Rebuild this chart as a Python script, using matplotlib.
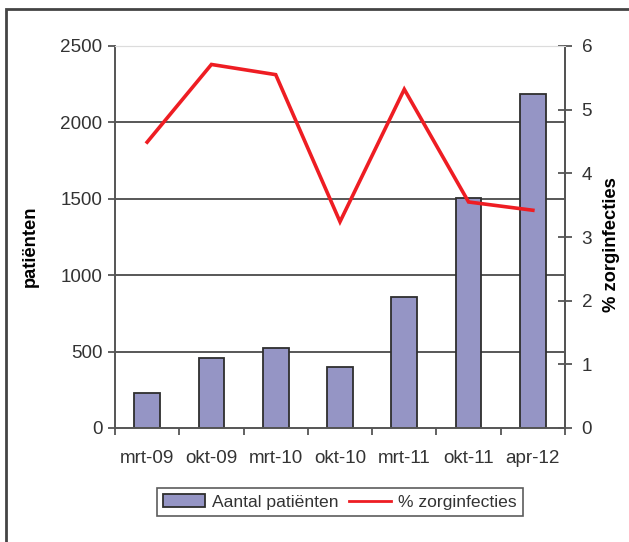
import matplotlib
matplotlib.use("Agg")
import matplotlib.pyplot as plt
from matplotlib.patches import Rectangle, Patch
from matplotlib.lines import Line2D

plt.rcParams['font.family'] = ['Liberation Sans', 'DejaVu Sans']

categories = ["mrt-09", "okt-09", "mrt-10", "okt-10", "mrt-11", "okt-11", "apr-12"]
patienten = [227, 458, 521, 397, 859, 1507, 2184]
zorginfecties = [4.49, 5.71, 5.55, 3.24, 5.32, 3.55, 3.42]
left_ticks = [0, 500, 1000, 1500, 2000, 2500]
right_ticks = [0, 1, 2, 3, 4, 5, 6]

W, H = 629, 542
DPI = 100
fig = plt.figure(figsize=(W / DPI, H / DPI), dpi=DPI)

def px(x0, y0, x1, y1):
    return [x0 / W, 1 - y1 / H, (x1 - x0) / W, (y1 - y0) / H]

ax = fig.add_axes(px(115, 46, 565, 428))
ax2 = ax.twinx()

bar_color = "#9595c5"
edge = "#2e2e2e"
grid_color = "#4a4a4a"
text_color = "#333333"
fs = 13.6

x = list(range(len(categories)))
ax.set_xlim(-0.5, len(categories) - 0.5)
ax.set_ylim(0, 2500)
ax2.set_ylim(0, 6)

# horizontal gridlines
for v in left_ticks[1:-1]:
    ax.axhline(v, color=grid_color, lw=1.3, zorder=1)

ax.bar(x, patienten, width=0.4, color=bar_color, edgecolor=edge, linewidth=1.3, zorder=2)
ax2.plot(x, zorginfecties, color="#ee1d23", lw=2.6, zorder=3, solid_joinstyle="miter")

# spines
for s in ["left", "bottom", "right"]:
    ax.spines[s].set_color("#555555")
    ax.spines[s].set_linewidth(1.4)
    ax2.spines[s].set_color("#555555")
    ax2.spines[s].set_linewidth(1.4)
ax.spines["top"].set_color("#dcdcdc")
ax2.spines["top"].set_color("#dcdcdc")
ax2.spines["left"].set_visible(False)
ax2.spines["bottom"].set_visible(False)

# left axis ticks
ax.set_yticks(left_ticks)
ax.set_yticklabels([str(v) for v in left_ticks])
ax.tick_params(axis="y", direction="out", length=5, width=1.3, color="#555555",
               labelsize=fs, labelcolor=text_color, pad=4)

# x axis: labels at category centers, tick marks at boundaries
ax.set_xticks(x)
ax.set_xticklabels(categories)
ax.set_xticks([i + 0.5 for i in range(-1, len(categories))], minor=True)
ax.tick_params(axis="x", which="major", length=0, labelsize=fs, labelcolor=text_color, pad=16)
ax.tick_params(axis="x", which="minor", direction="out", length=5, width=1.3, color="#555555")

# right axis ticks cross the axis line
ax2.set_yticks(right_ticks)
ax2.set_yticklabels([str(v) for v in right_ticks])
ax2.tick_params(axis="y", direction="inout", length=10, width=1.3, color="#555555",
                labelsize=fs, labelcolor=text_color, pad=7)

fig.text(30 / W, 1 - 246 / H, "patiënten", rotation=90, ha="center", va="center",
         fontsize=13.2, fontweight="bold", color="black")
fig.text(611 / W, 1 - 245 / H, "% zorginfecties", rotation=90, ha="center", va="center",
         fontsize=13.2, fontweight="bold", color="black")

handles = [Patch(facecolor=bar_color, edgecolor=edge, linewidth=1.3),
           Line2D([0], [0], color="#ee1d23", lw=2)]
leg = fig.legend(handles, ["Aantal patiënten", "% zorginfecties"], loc="center",
                 bbox_to_anchor=(340 / W, 1 - 502 / H), ncol=2, frameon=True,
                 fancybox=False, fontsize=12.6, handlelength=2.4, handleheight=0.7,
                 columnspacing=0.6, handletextpad=0.4, borderpad=0.35)
leg.get_frame().set_edgecolor("#333333")
leg.get_frame().set_linewidth(1.2)
for t in leg.get_texts():
    t.set_color(text_color)

# outer frame around the chart
fig.patches.append(Rectangle((6 / W, -0.05), 1.1, 1 - 9 / H + 0.05, transform=fig.transFigure,
                             fill=False, edgecolor="#444444", linewidth=2, figure=fig))

fig.savefig("out.png", dpi=DPI)
